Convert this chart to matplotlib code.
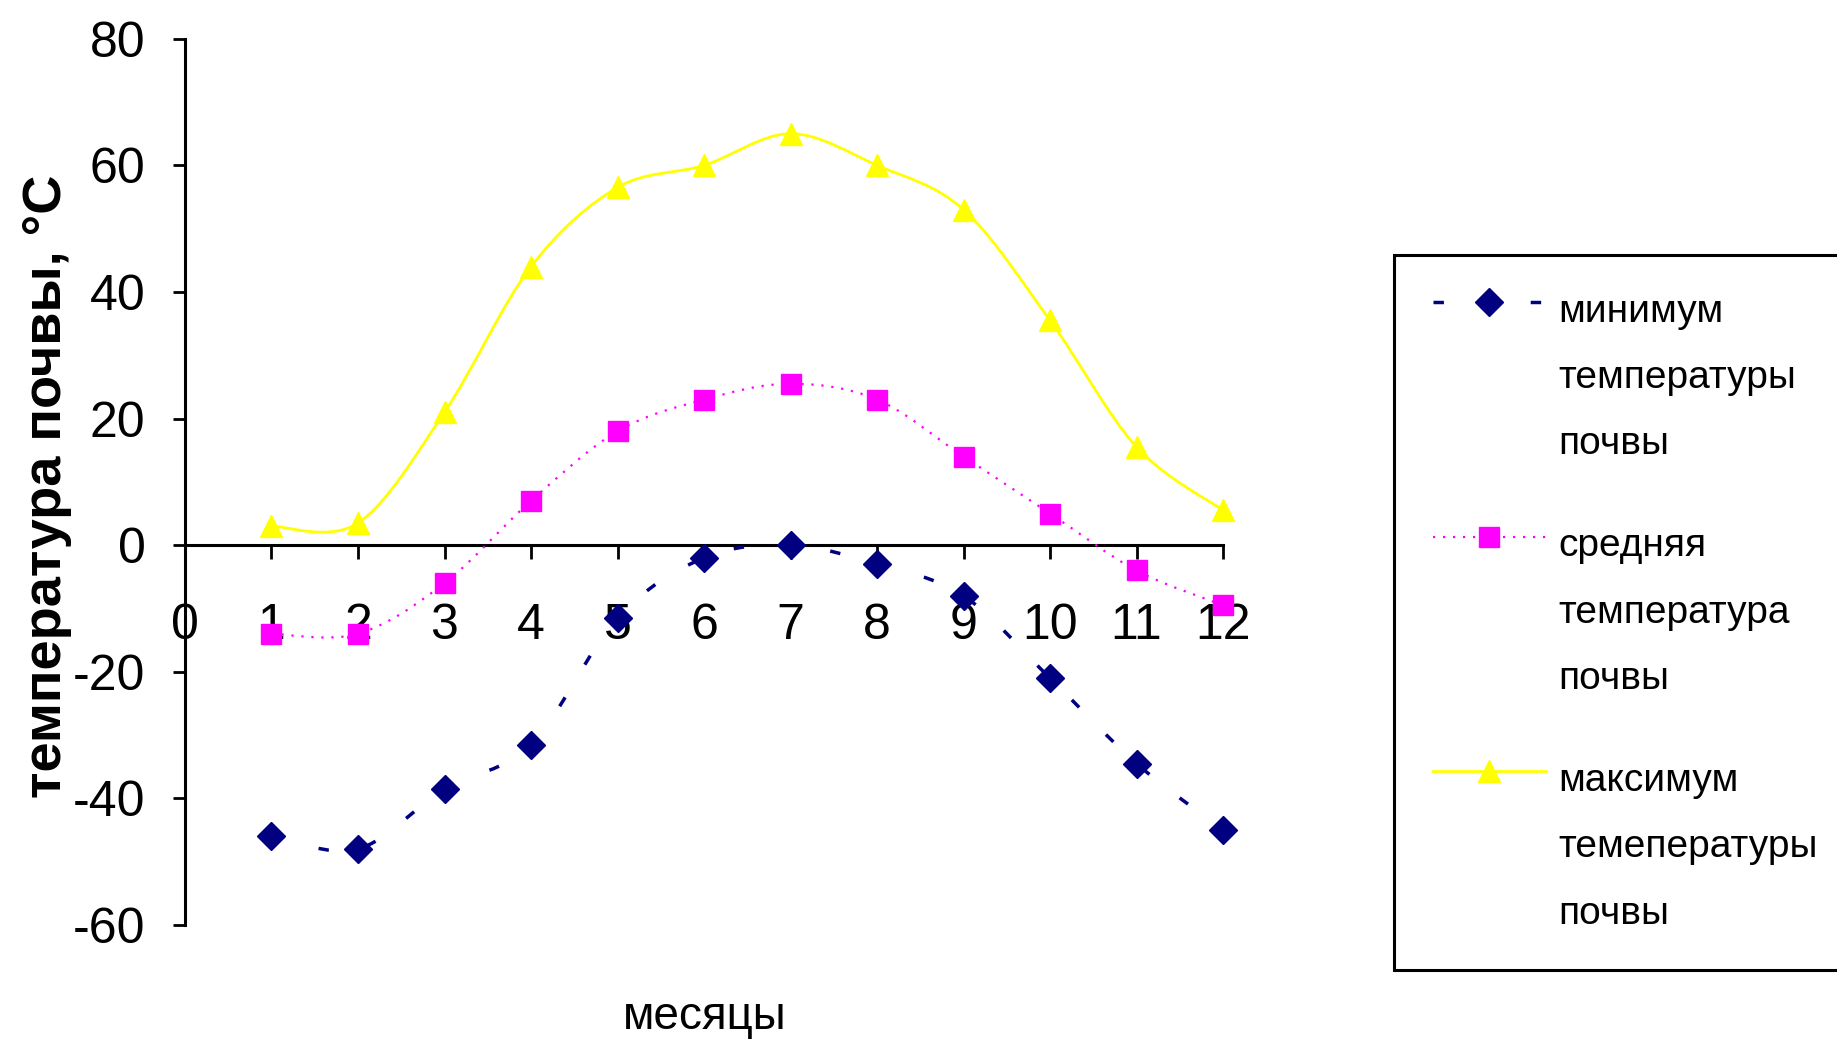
import numpy as np
import matplotlib
matplotlib.use('Agg')
import matplotlib.pyplot as plt
from matplotlib.path import Path
from matplotlib.patches import PathPatch
from matplotlib.lines import Line2D

# данные (читаны с графика)
months = [1, 2, 3, 4, 5, 6, 7, 8, 9, 10, 11, 12]
t_min = [-46, -48, -38.5, -31.5, -11.5, -2, 0, -3, -8, -21, -34.5, -45]
t_mean = [-14, -14, -6, 7, 18, 23, 25.5, 23, 14, 5, -4, -9.5]
t_max = [3, 3.5, 21, 44, 56.5, 60, 65, 60, 53, 35.5, 15.5, 5.5]
x_ticks = list(range(0, 13))
y_ticks = list(range(-60, 81, 20))
labels = ['минимум\nтемпературы\nпочвы',
          'средняя\nтемпература\nпочвы',
          'максимум\nтемепературы\nпочвы']

plt.rcParams['font.family'] = ['Liberation Sans', 'DejaVu Sans']
plt.rcParams['axes.unicode_minus'] = False


def smooth_path(x, y):
    # сглаженная линия как в Excel (Catmull-Rom -> кривые Безье)
    pts = np.column_stack([x, y]).astype(float)
    ext = np.vstack([pts[0], pts, pts[-1]])
    verts = [pts[0]]
    codes = [Path.MOVETO]
    for i in range(len(pts) - 1):
        p0, p1, p2, p3 = ext[i], ext[i + 1], ext[i + 2], ext[i + 3]
        verts += [p1 + (p2 - p0) / 6, p2 - (p3 - p1) / 6, p2]
        codes += [Path.CURVE4] * 3
    return Path(verts, codes)


fig = plt.figure(figsize=(18.37, 10.44), dpi=100)
ax = fig.add_axes([0.1007, 0.1140, 0.5651, 0.8489])
ax.set_xlim(0, 12)
ax.set_ylim(-60, 80)

series = [
    (t_min, '#000080', (0, (3, 11)), 2.5, 'D', 14),
    (t_mean, '#FF00FF', (0, (1, 3.5)), 1.6, 's', 15),
    (t_max, '#FFFF00', '-', 2.0, '^', 16),
]
handles = []
for vals, col, ls, lw, mk, ms in series:
    ax.add_patch(PathPatch(smooth_path(months, vals), facecolor='none', edgecolor=col,
                           lw=lw, linestyle=ls, zorder=4))
    ax.plot(months, vals, linestyle='none', marker=mk, ms=ms, color=col, zorder=5, clip_on=False)
    handles.append(Line2D([], [], color=col, lw=lw, linestyle=ls, marker=mk, ms=ms))

for s in ['top', 'right']:
    ax.spines[s].set_visible(False)
ax.spines['bottom'].set_position(('data', 0))
for s in ['left', 'bottom']:
    ax.spines[s].set_linewidth(2.2)
ax.set_xticks(x_ticks)
ax.set_xticklabels([str(v) for v in x_ticks])
ax.set_yticks(y_ticks)
ax.set_yticklabels([str(v) for v in y_ticks])
ax.tick_params(axis='y', direction='out', length=8.5, width=2, labelsize=36, pad=20)
ax.tick_params(axis='x', direction='out', length=10, width=2, labelsize=36, pad=32)

ax.set_ylabel('температура почвы, °C', fontsize=39, fontweight='bold', va='center')
ax.yaxis.set_label_coords(-0.133, 0.495)
ax.set_xlabel('месяцы', fontsize=33, va='center')
ax.xaxis.set_label_coords(0.501, -0.104)

leg = fig.legend(handles, labels, loc='upper left',
                 bbox_to_anchor=(1394 / 1837, 1 - 255 / 1044), bbox_transform=fig.transFigure,
                 borderaxespad=0, frameon=True, fancybox=False, edgecolor='black',
                 framealpha=1, prop={'size': 28},
                 handlelength=2.9, handletextpad=0.33, borderpad=1.0, labelspacing=1.7,
                 numpoints=1)
leg.get_frame().set_linewidth(2.2)
for t in leg.get_texts():
    t.set_linespacing(2.08)
for h in leg.legend_handles:
    h.set_ydata(np.asarray(h.get_ydata(), dtype=float) + 55)

fig.savefig('out.png', dpi=100, facecolor='white')
